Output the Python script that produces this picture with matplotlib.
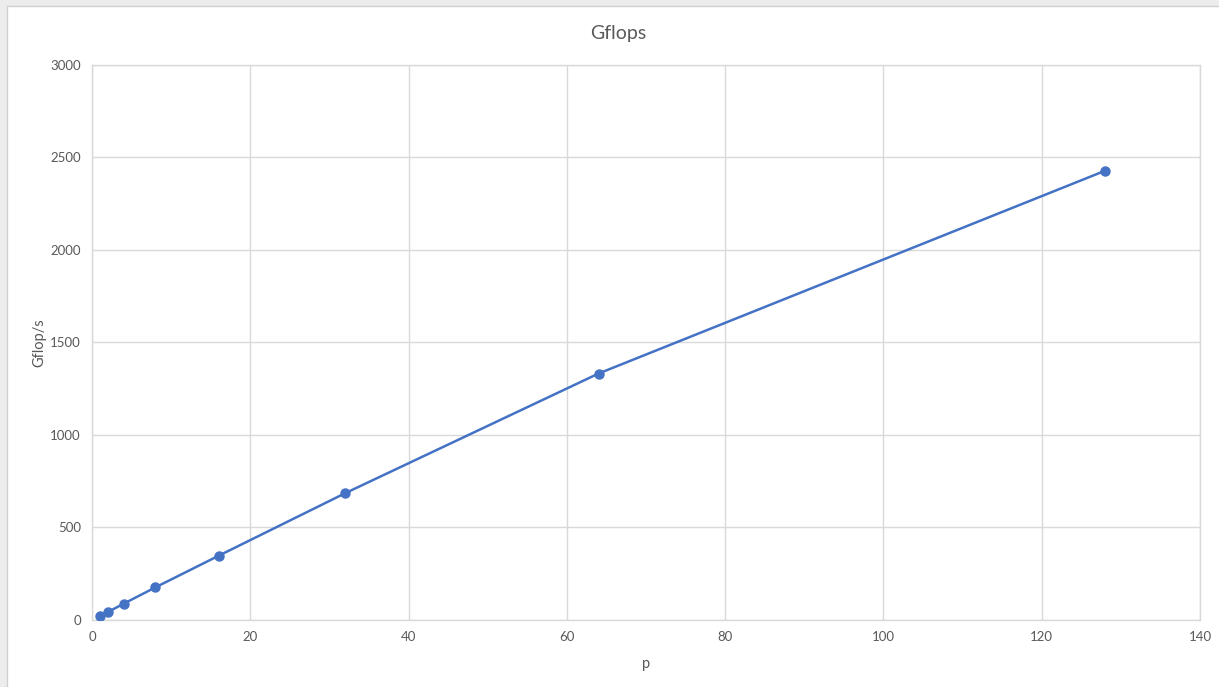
import matplotlib
matplotlib.use("Agg")
import matplotlib.pyplot as plt
from matplotlib.patches import Rectangle

# Processor counts and measured throughput
p_values = [1, 2, 4, 8, 16, 32, 64, 128]
gflops = [20, 43, 88, 176, 347, 685, 1331, 2426]

x_ticks = [0, 20, 40, 60, 80, 100, 120, 140]
y_ticks = [0, 500, 1000, 1500, 2000, 2500, 3000]

plt.rcParams['font.family'] = ['Lato', 'DejaVu Sans']

W, H = 1219, 687
fig = plt.figure(figsize=(W / 100, H / 100), dpi=100)
fig.patch.set_facecolor('white')

# window frame around the chart
fig.add_artist(Rectangle((0, 0), 7 / W, 1, transform=fig.transFigure,
                         facecolor='#ececec', edgecolor='none', zorder=0))
fig.add_artist(Rectangle((0, 1 - 6 / H), 1, 6 / H, transform=fig.transFigure,
                         facecolor='#ececec', edgecolor='none', zorder=0))
fig.add_artist(plt.Line2D([7 / W, 7 / W], [0, 1 - 6 / H], transform=fig.transFigure,
                          color='#d0d0d0', lw=1))
fig.add_artist(plt.Line2D([7 / W, 1], [1 - 6 / H, 1 - 6 / H], transform=fig.transFigure,
                          color='#d0d0d0', lw=1))

ax = fig.add_axes([92 / W, 1 - 620 / H, (1200 - 92) / W, (620 - 64.5) / H])
ax.set_xlim(0, 140)
ax.set_ylim(0, 3000)
ax.set_xticks(x_ticks)
ax.set_yticks(y_ticks)
ax.grid(True, color='#d9d9d9', lw=1)
ax.set_axisbelow(True)
for s in ax.spines.values():
    s.set_color('#d9d9d9')
    s.set_linewidth(1)
ax.tick_params(length=0, labelsize=9.5, colors='#595959', pad=8)

ax.plot(p_values, gflops, color='#4472C4', lw=1.8, marker='o', markersize=6.5,
        zorder=3)

ax.set_xlabel('p', fontsize=10.5, color='#595959', labelpad=10)
ax.set_ylabel('Gflop/s', fontsize=10.5, color='#595959', labelpad=3)
fig.text(618 / W, 1 - 33 / H, 'Gflops', ha='center', va='center',
         fontsize=14, color='#595959')

fig.savefig('out.png', dpi=100)
